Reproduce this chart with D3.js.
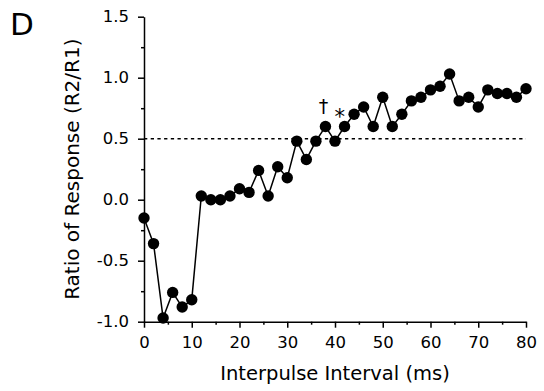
<!DOCTYPE html>
<html>
<head>
<meta charset="utf-8">
<script src="https://cdn.jsdelivr.net/npm/d3@7"></script>
<style>
  body { margin: 0; background: #fff; }
  svg text { font-family: "DejaVu Sans", sans-serif; fill: #000; }
</style>
</head>
<body>
<div id="chart"></div>
<script>
// Interpulse intervals (ms) and ratio of response R2/R1
const intervals = [0, 2, 4, 6, 8, 10, 12, 14, 16, 18, 20, 22, 24, 26, 28, 30, 32, 34, 36, 38,
                   40, 42, 44, 46, 48, 50, 52, 54, 56, 58, 60, 62, 64, 66, 68, 70, 72, 74, 76, 78, 80];
const ratios = [-0.15, -0.36, -0.97, -0.76, -0.88, -0.82, 0.03, 0.0, 0.0, 0.03, 0.09, 0.06, 0.24, 0.03, 0.27, 0.18, 0.48, 0.33, 0.48, 0.60,
                0.48, 0.60, 0.70, 0.76, 0.60, 0.84, 0.60, 0.70, 0.81, 0.84, 0.90, 0.93, 1.03, 0.81, 0.84, 0.76, 0.90, 0.87, 0.87, 0.84, 0.91];
const xTicks = [0, 10, 20, 30, 40, 50, 60, 70, 80];
const xMinorTicks = [5, 15, 25, 35, 45, 55, 65, 75];
const yTicks = [-1.0, -0.5, 0.0, 0.5, 1.0, 1.5];
const yMinorTicks = [-0.75, -0.25, 0.25, 0.75, 1.25];
const threshold = 0.5;
const marks = [{ x: 38, label: "\u2020" }, { x: 41, label: "*" }];

const width = 544;
const height = 391;

const svg = d3.select("#chart").append("svg")
    .attr("width", width)
    .attr("height", height);

// Scales
const x = d3.scaleLinear().domain([0, 80]).range([144, 526]);
const y = d3.scaleLinear().domain([-1, 1.5]).range([321.7, 16.7]);

// Minor ticks first so the main axis line sits on top
svg.append("g")
    .attr("transform", `translate(0,${y(-1)})`)
    .call(d3.axisBottom(x).tickValues(xMinorTicks).tickSize(3).tickSizeOuter(0).tickFormat(""))
    .call(g => g.select(".domain").remove());

svg.append("g")
    .attr("transform", `translate(${x(0)},0)`)
    .call(d3.axisLeft(y).tickValues(yMinorTicks).tickSize(3).tickSizeOuter(0).tickFormat(""))
    .call(g => g.select(".domain").remove());

// Main x axis
const gx = svg.append("g")
    .attr("transform", `translate(0,${y(-1)})`)
    .call(d3.axisBottom(x).tickValues(xTicks).tickSize(6).tickSizeOuter(0).tickPadding(9));

// Main y axis
const gy = svg.append("g")
    .attr("transform", `translate(${x(0)},0)`)
    .call(d3.axisLeft(y).tickValues(yTicks).tickSize(6).tickSizeOuter(0).tickPadding(9)
        .tickFormat(d => d.toFixed(1)));

svg.selectAll(".domain, .tick line")
    .attr("stroke", "#000")
    .attr("stroke-width", 1.5);
svg.selectAll(".tick text")
    .attr("font-size", 16.5)
    .attr("font-family", "DejaVu Sans, sans-serif")
    .attr("fill", "#111");

// Dotted reference line at 0.5
svg.append("line")
    .attr("x1", x(0))
    .attr("x2", x(80))
    .attr("y1", y(threshold))
    .attr("y2", y(threshold))
    .attr("stroke", "#000")
    .attr("stroke-width", 1.5)
    .attr("stroke-dasharray", "3.3,3.4");

// Data line
const line = d3.line()
    .x((d, i) => x(intervals[i]))
    .y(d => y(d));

svg.append("path")
    .datum(ratios)
    .attr("fill", "none")
    .attr("stroke", "#000")
    .attr("stroke-width", 1.5)
    .attr("d", line);

// Data points
svg.selectAll("circle")
    .data(ratios)
    .enter()
    .append("circle")
    .attr("cx", (d, i) => x(intervals[i]))
    .attr("cy", d => y(d))
    .attr("r", 5.7)
    .attr("fill", "#000");

// Significance marks
svg.append("text")
    .attr("x", x(marks[0].x) - 2)
    .attr("y", 113)
    .attr("text-anchor", "middle")
    .attr("font-size", 19)
    .text(marks[0].label);

svg.append("text")
    .attr("x", x(marks[1].x))
    .attr("y", 124)
    .attr("text-anchor", "middle")
    .attr("font-size", 21)
    .text(marks[1].label);

// Axis titles
svg.append("text")
    .attr("x", (x(0) + x(80)) / 2)
    .attr("y", 380)
    .attr("text-anchor", "middle")
    .attr("font-size", 19.5)
    .text("Interpulse Interval (ms)");

svg.append("text")
    .attr("transform", "rotate(-90)")
    .attr("x", -(y(-1) + y(1.5)) / 2)
    .attr("y", 79)
    .attr("text-anchor", "middle")
    .attr("font-size", 20)
    .text("Ratio of Response (R2/R1)");

// Panel letter
svg.append("text")
    .attr("x", 10)
    .attr("y", 35)
    .attr("font-size", 31)
    .text("D");
</script>
</body>
</html>
